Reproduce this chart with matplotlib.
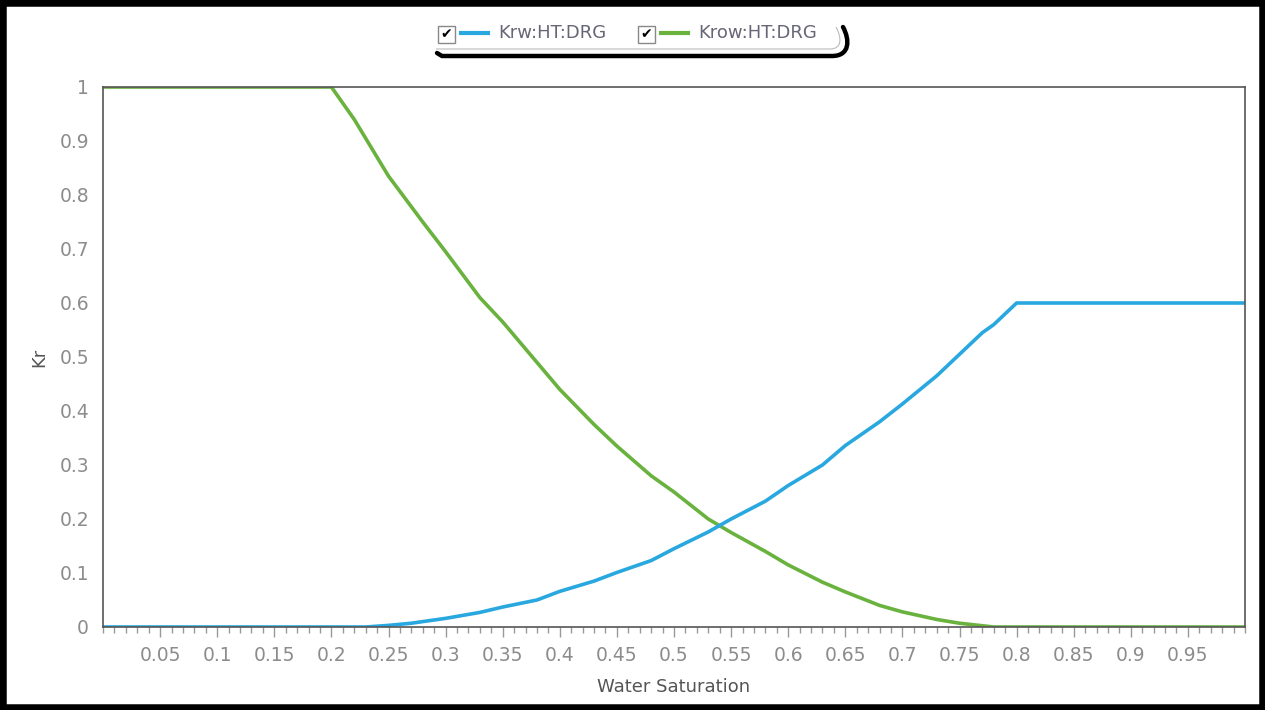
import matplotlib.pyplot as plt
import numpy as np
from matplotlib.lines import Line2D
from matplotlib.patches import Rectangle, PathPatch
from matplotlib.path import Path

# water saturation / relative permeability
sw_krw = [0.0, 0.2, 0.23, 0.25, 0.27, 0.3, 0.33, 0.35, 0.38, 0.4, 0.43, 0.45, 0.48, 0.5,
          0.53, 0.55, 0.58, 0.6, 0.63, 0.65, 0.68, 0.7, 0.73, 0.75, 0.77, 0.78, 0.8, 1.0]
krw = [0.0, 0.0, 0.0, 0.003, 0.007, 0.016, 0.027, 0.037, 0.05, 0.066, 0.085, 0.101, 0.123, 0.145,
       0.176, 0.2, 0.233, 0.262, 0.3, 0.336, 0.38, 0.413, 0.465, 0.505, 0.545, 0.56, 0.6, 0.6]

sw_krow = [0.0, 0.2, 0.22, 0.25, 0.28, 0.3, 0.33, 0.35, 0.38, 0.4, 0.43, 0.45, 0.48, 0.5,
           0.53, 0.55, 0.58, 0.6, 0.63, 0.65, 0.68, 0.7, 0.73, 0.75, 0.78, 1.0]
krow = [1.0, 1.0, 0.94, 0.835, 0.75, 0.695, 0.61, 0.565, 0.49, 0.44, 0.375, 0.335, 0.28, 0.25,
        0.2, 0.175, 0.14, 0.115, 0.083, 0.065, 0.04, 0.028, 0.014, 0.007, 0.0, 0.0]

series_names = ["Krw:HT:DRG", "Krow:HT:DRG"]
blue = "#29a8e0"
green = "#6ab23e"
tick_col = "#8c8c8c"

fig = plt.figure(figsize=(12.65, 7.10), dpi=100)
ax = fig.add_axes([103 / 1265, 83 / 710, 1142 / 1265, 540 / 710])

ax.plot(sw_krow, krow, color=green, lw=2.6, solid_joinstyle="round")
ax.plot(sw_krw, krw, color=blue, lw=2.6, solid_joinstyle="round")

ax.set_xlim(0, 1)
ax.set_ylim(0, 1)
xt = np.round(np.arange(0.05, 0.96, 0.05), 2)
ax.set_xticks(xt)
ax.set_xticklabels([f"{v:g}" for v in xt])
ax.set_xticks(np.arange(0, 1.001, 0.01), minor=True)
yt = np.round(np.arange(0, 1.01, 0.1), 1)
ax.set_yticks(yt)
ax.set_yticklabels([f"{v:g}" for v in yt])
ax.tick_params(axis="x", which="major", length=7, width=1, color="#999999",
               labelsize=13.5, labelcolor=tick_col, pad=7)
ax.tick_params(axis="x", which="minor", length=4, width=1, color="#999999")
ax.tick_params(axis="y", length=0, labelsize=13.5, labelcolor=tick_col, pad=10)
for s in ax.spines.values():
    s.set_color("#555555")
    s.set_linewidth(1.2)
ax.set_xlabel("Water Saturation", fontsize=13, color="#555555", labelpad=9)
ax.set_ylabel("Kr", fontsize=13, color="#555555", labelpad=8)

# legend drawn in figure pixels
def fx(px):
    return px / 1265

def fy(py):
    return 1 - py / 710

x0 = 438
for name, col in zip(series_names, [blue, green]):
    fig.add_artist(Rectangle((fx(x0), fy(43)), fx(17), 17 / 710, transform=fig.transFigure,
                             facecolor="white", edgecolor="#888888", lw=1))
    fig.text(fx(x0 + 8.5), fy(34.5), "\u2714", fontsize=10, ha="center", va="center", color="black")
    fig.add_artist(Line2D([fx(x0 + 23), fx(x0 + 50)], [fy(33), fy(33)], color=col, lw=3,
                          transform=fig.transFigure))
    fig.text(fx(x0 + 60), fy(33), name, fontsize=13, ha="left", va="center", color="#666677")
    x0 += 200

# rounded box outline and its shadow
box = [(fx(436), fy(49)), (fx(830), fy(49)),
       (fx(842), fy(49)), (fx(842), fy(38)), (fx(836), fy(27))]
box_codes = [Path.MOVETO, Path.LINETO, Path.CURVE4, Path.CURVE4, Path.CURVE4]
fig.add_artist(PathPatch(Path(box, box_codes), facecolor="none", edgecolor="#bbbbbb", lw=0.8,
                         transform=fig.transFigure))
verts = [(fx(437), fy(53)), (fx(442), fy(56)), (fx(832), fy(56)),
         (fx(850), fy(56)), (fx(850), fy(40)), (fx(843), fy(27))]
codes = [Path.MOVETO, Path.LINETO, Path.LINETO, Path.CURVE4, Path.CURVE4, Path.CURVE4]
fig.add_artist(PathPatch(Path(verts, codes), facecolor="none", edgecolor="black", lw=3.2,
                         transform=fig.transFigure, capstyle="round"))

# black frame round the picture
fig.add_artist(Rectangle((0, 0), 1, 1, transform=fig.transFigure, facecolor="none",
                         edgecolor="black", lw=9))

fig.savefig("out.png", dpi=100)
